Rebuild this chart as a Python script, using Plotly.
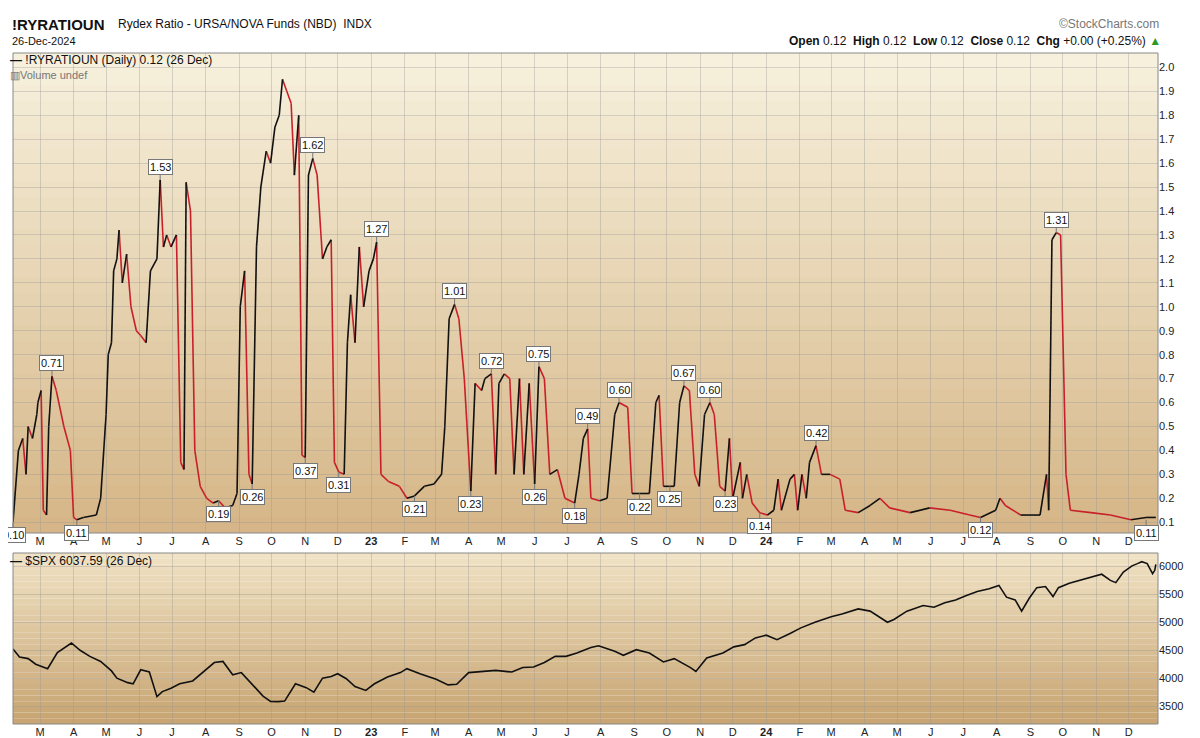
import plotly.graph_objects as go
import pandas as pd

# ---- data (day offsets from 2022-01-01) ----
ratio_days = [34,39,43,46,48,52,56,57,60,62,65,67,70,74,81,87,90,93,99,111,115,120,122,125,127,130,132,135,139,143,148,152,157,161,167,170,173,176,180,185,189,192,194,198,202,207,213,219,224,230,237,241,244,248,252,255,259,263,268,272,276,280,283,287,291,294,298,301,304,307,311,315,320,324,328,331,335,340,343,346,350,354,358,363,367,370,374,381,391,398,405,414,423,430,433,437,442,446,451,457,461,467,470,476,480,483,488,493,497,502,506,511,516,520,525,530,537,544,553,557,561,565,568,576,583,590,594,602,606,613,622,628,631,635,641,645,650,654,659,664,668,673,678,682,687,692,696,699,706,708,712,717,724,731,737,741,744,752,756,759,763,767,770,776,781,789,798,803,815,826,835,844,863,881,900,918,928,942,946,951,965,983,989,991,994,998,1002,1007,1011,1030,1048,1067,1081,1090]
ratio_vals = [0.10,0.40,0.45,0.30,0.50,0.45,0.55,0.60,0.65,0.15,0.13,0.50,0.71,0.65,0.50,0.40,0.12,0.11,0.12,0.13,0.20,0.55,0.80,0.85,1.15,1.20,1.32,1.10,1.22,1.00,0.90,0.88,0.85,1.15,1.20,1.53,1.25,1.30,1.25,1.30,0.35,0.32,1.52,1.40,0.40,0.25,0.20,0.18,0.19,0.16,0.17,0.22,1.00,1.15,0.30,0.26,1.25,1.50,1.65,1.60,1.75,1.80,1.95,1.90,1.85,1.55,1.80,0.38,0.37,1.55,1.62,1.55,1.20,1.25,1.28,0.35,0.31,0.30,0.85,1.05,0.85,1.25,1.00,1.15,1.20,1.27,0.30,0.27,0.25,0.20,0.21,0.25,0.26,0.30,0.50,0.95,1.01,0.95,0.70,0.23,0.68,0.65,0.70,0.72,0.30,0.68,0.72,0.70,0.30,0.70,0.30,0.68,0.26,0.75,0.70,0.30,0.32,0.20,0.18,0.30,0.45,0.49,0.20,0.19,0.20,0.55,0.60,0.58,0.22,0.22,0.22,0.60,0.63,0.25,0.25,0.25,0.60,0.67,0.65,0.30,0.25,0.55,0.60,0.55,0.25,0.23,0.45,0.20,0.35,0.20,0.30,0.18,0.14,0.13,0.15,0.28,0.15,0.28,0.30,0.15,0.30,0.20,0.35,0.42,0.30,0.30,0.28,0.15,0.14,0.17,0.20,0.16,0.14,0.16,0.15,0.13,0.12,0.15,0.20,0.17,0.13,0.13,0.30,0.15,1.28,1.31,1.30,0.30,0.15,0.14,0.13,0.11,0.12,0.12]

label_days = [34,70,93,170,224,255,304,311,335,370,405,442,457,476,516,520,553,565,594,613,641,654,678,692,724,776,928,998,1081]
label_vals = [0.10,0.71,0.11,1.53,0.19,0.26,0.37,1.62,0.31,1.27,0.21,1.01,0.23,0.72,0.26,0.75,0.18,0.49,0.60,0.22,0.25,0.67,0.60,0.23,0.14,0.42,0.12,1.31,0.11]
label_up = [False,True,False,True,False,False,False,True,False,True,False,True,False,True,False,True,False,True,True,False,False,True,True,False,False,True,False,True,False]

spx_days = [34,40,48,55,66,75,88,96,105,115,125,130,140,145,152,160,167,172,180,188,200,210,220,228,237,245,256,265,272,279,285,295,305,312,320,328,334,342,350,360,368,380,392,398,410,425,436,444,455,468,480,495,505,515,525,535,545,555,568,575,590,598,610,622,635,645,660,665,675,690,700,710,720,730,740,752,762,775,790,800,815,826,838,842,848,860,875,885,895,905,915,925,936,945,952,960,966,973,980,988,995,1000,1010,1020,1030,1040,1048,1053,1060,1065,1068,1073,1077,1082,1087,1089,1090]
spx_vals = [4520,4380,4350,4250,4170,4460,4630,4500,4390,4300,4130,4000,3920,3900,4150,4110,3670,3760,3820,3900,3950,4120,4280,4300,4060,4100,3870,3680,3585,3580,3590,3900,3830,3750,4000,4030,4080,3990,3850,3780,3900,4020,4100,4170,4080,3980,3880,3890,4100,4120,4140,4110,4190,4200,4280,4390,4390,4450,4550,4580,4480,4410,4510,4450,4290,4350,4190,4120,4360,4450,4560,4600,4720,4770,4690,4800,4900,5000,5100,5150,5240,5200,5060,5000,5050,5200,5300,5270,5350,5400,5480,5550,5600,5660,5450,5400,5200,5430,5620,5640,5460,5620,5700,5750,5800,5860,5750,5710,5900,5960,6010,6050,6085,6050,5870,5930,6037]

month_starts = pd.date_range("2022-03-01", "2024-12-01", freq="MS")
month_text = ["<b>%s</b>" % d.strftime("%y") if d.month == 1 else d.strftime("%b")[0] for d in month_starts]
ratio_ticks = [0.1,0.2,0.3,0.4,0.5,0.6,0.7,0.8,0.9,1.0,1.1,1.2,1.3,1.4,1.5,1.6,1.7,1.8,1.9,2.0]
spx_ticks = [3500,4000,4500,5000,5500,6000]

base = pd.Timestamp("2022-01-01")
rd = [base + pd.Timedelta(days=d) for d in ratio_days]
sd = [base + pd.Timedelta(days=d) for d in spx_days]
ld = [base + pd.Timedelta(days=d) for d in label_days]

upx, upy, dnx, dny = [], [], [], []
for i in range(1, len(rd)):
    if ratio_vals[i] >= ratio_vals[i-1]:
        upx += [rd[i-1], rd[i], None]; upy += [ratio_vals[i-1], ratio_vals[i], None]
    else:
        dnx += [rd[i-1], rd[i], None]; dny += [ratio_vals[i-1], ratio_vals[i], None]

H = 738.0
W = 1200.0
def py(p): return 1 - p / H
def px(p): return (p - 5) / (W - 55)

fig = go.Figure()
fig.add_trace(go.Scatter(x=dnx, y=dny, mode="lines", line=dict(color="#c8202a", width=1.6), xaxis="x", yaxis="y", hoverinfo="skip"))
fig.add_trace(go.Scatter(x=upx, y=upy, mode="lines", line=dict(color="#111111", width=1.6), xaxis="x", yaxis="y", hoverinfo="skip"))
fig.add_trace(go.Scatter(x=sd, y=spx_vals, mode="lines", line=dict(color="#111111", width=1.6), xaxis="x2", yaxis="y2", hoverinfo="skip"))

TOP0, TOP1, BOT0, BOT1 = 45, 525, 545, 716
shapes = []
def grad(y0p, y1p, c0, c1, n=30):
    for k in range(n):
        t = k / (n - 1)
        c = tuple(int(c0[j] + (c1[j] - c0[j]) * t) for j in range(3))
        a = y0p + (y1p - y0p) * k / n
        b = y0p + (y1p - y0p) * (k + 1) / n
        shapes.append(dict(type="rect", xref="paper", yref="paper", x0=0, x1=1,
                           y0=py(b), y1=py(a), fillcolor="rgb(%d,%d,%d)" % c, line_width=0, layer="below"))
grad(TOP0, TOP1, (247, 240, 220), (214, 182, 136))
grad(BOT0, BOT1, (240, 226, 196), (200, 165, 115))
for yp in [(TOP0, TOP1), (BOT0, BOT1)]:
    shapes.append(dict(type="rect", xref="paper", yref="paper", x0=0, x1=1, y0=py(yp[1]), y1=py(yp[0]),
                       line=dict(color="#888", width=1), fillcolor="rgba(0,0,0,0)", layer="above"))

xr = ["2022-02-04", "2024-12-28"]
axfont = dict(family="Liberation Sans", size=11, color="#222")
fig.update_layout(
    width=1200, height=738, paper_bgcolor="white", plot_bgcolor="rgba(0,0,0,0)",
    margin=dict(l=5, r=50, t=0, b=0, autoexpand=False), showlegend=False, shapes=shapes,
    font=dict(family="Liberation Sans", size=11, color="#222"),
    xaxis=dict(domain=[0, 1], range=xr, anchor="y", tickvals=month_starts, ticktext=month_text, tickfont=axfont,
               showgrid=True, gridcolor="rgba(150,150,150,0.35)", ticks="", zeroline=False, automargin=False),
    yaxis=dict(domain=[py(TOP1), py(TOP0)], range=[0.055, 2.06], side="right", tickvals=ratio_ticks,
               ticktext=["%.1f" % v for v in ratio_ticks], tickfont=axfont, showgrid=True, automargin=False,
               gridcolor="rgba(150,150,150,0.35)", zeroline=False, anchor="x"),
    xaxis2=dict(domain=[0, 1], range=xr, anchor="y2", tickvals=month_starts, ticktext=month_text, tickfont=axfont,
                showgrid=True, gridcolor="rgba(150,150,150,0.35)", ticks="", zeroline=False, automargin=False),
    yaxis2=dict(domain=[py(BOT1), py(BOT0)], range=[3180, 6240], side="right", tickvals=spx_ticks, tickfont=axfont,
                showgrid=True, gridcolor="rgba(150,150,150,0.35)", zeroline=False, anchor="x2", automargin=False),
)

ann = []
for d, v, up in zip(ld, label_vals, label_up):
    ann.append(dict(x=d, y=v, xref="x", yref="y", text="%.2f" % v, showarrow=True, arrowhead=0, arrowwidth=1,
                    arrowcolor="#777", ax=0, ay=-13 if up else 13, bgcolor="white", bordercolor="#777",
                    borderwidth=1, borderpad=1, font=dict(size=11, color="#111")))
def ptxt(x, y, s, anchor="left", size=11, color="#111"):
    ann.append(dict(x=px(x), y=py(y), xref="paper", yref="paper", text=s, showarrow=False, xanchor=anchor,
                    yanchor="middle", font=dict(size=size, color=color, family="Liberation Sans")))
ptxt(2, 16, "<b>!RYRATIOUN</b>", size=15)
ptxt(108, 16, "Rydex Ratio - URSA/NOVA Funds (NBD)  INDX", size=12)
ptxt(2, 33, "26-Dec-2024", size=11)
ptxt(1153, 16, "©StockCharts.com", anchor="right", size=12, color="#777")
ptxt(1155, 33, "<b>Open</b> 0.12  <b>High</b> 0.12  <b>Low</b> 0.12  <b>Close</b> 0.12  <b>Chg</b> +0.00 (+0.25%) <span style='color:#2a9a2a'>▲</span>", anchor="right", size=12)
ptxt(0, 52, "<b>—</b> !RYRATIOUN (Daily) 0.12 (26 Dec)", size=12)
ptxt(0, 67, "<span style='color:#777'>▥Volume undef</span>", size=11)
ptxt(0, 553, "<b>—</b> $SPX 6037.59 (26 Dec)", size=12)
fig.update_layout(annotations=ann)

fig.write_html("out.html")
